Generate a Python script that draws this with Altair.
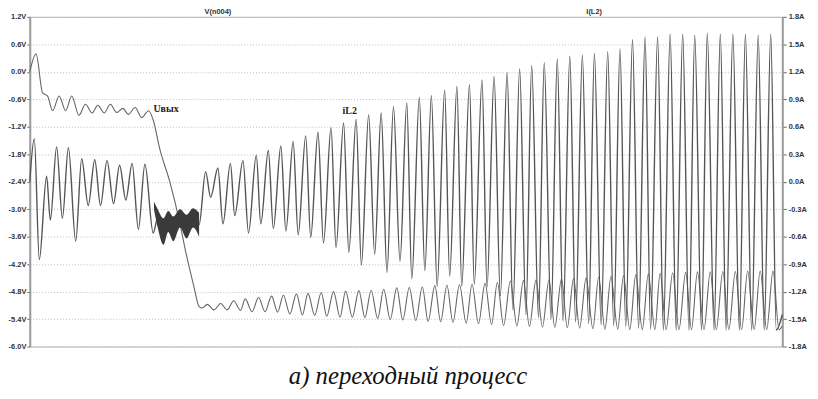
import altair as alt
import pandas as pd

# ---------------- data ----------------
T_TICKS = [0.0, 0.3, 0.6, 0.9, 1.2, 1.5, 1.8, 2.1, 2.4, 2.7, 3.0]
V_TICKS = [1.2, 0.6, 0.0, -0.6, -1.2, -1.8, -2.4, -3.0, -3.6, -4.2, -4.8, -5.4, -6.0]
A_TICKS = [1.8, 1.5, 1.2, 0.9, 0.6, 0.3, 0.0, -0.3, -0.6, -0.9, -1.2, -1.5, -1.8]

# Uвых  (time, ms / volts) – extrema of the trace
U_T = [0.000, 0.025, 0.051, 0.071, 0.091, 0.117, 0.143, 0.167, 0.196, 0.222,
       0.249, 0.271, 0.297, 0.321, 0.347, 0.371, 0.393, 0.420, 0.446, 0.474,
       0.493, 0.518, 0.558, 0.597, 0.624, 0.655, 0.675, 0.688, 0.708, 0.734,
       0.761, 0.787, 0.813, 0.840, 0.859, 0.886, 0.912, 0.938, 0.964, 0.988,
       1.011, 1.037, 1.063, 1.087, 1.109, 1.136, 1.162, 1.184, 1.211, 1.237,
       1.259, 1.286, 1.312, 1.336, 1.361, 1.387, 1.411, 1.437, 1.463, 1.487,
       1.513, 1.539, 1.565, 1.588, 1.615, 1.638, 1.663, 1.687, 1.713, 1.740,
       1.763, 1.789, 1.815, 1.841, 1.864, 1.889, 1.916, 1.942, 1.968, 1.992,
       2.018, 2.044, 2.070, 2.093, 2.120, 2.143, 2.168, 2.192, 2.218, 2.245,
       2.268, 2.293, 2.317, 2.344, 2.367, 2.392, 2.416, 2.442, 2.466, 2.492,
       2.513, 2.537, 2.563, 2.588, 2.615, 2.638, 2.662, 2.688, 2.713, 2.737,
       2.763, 2.787, 2.813, 2.838, 2.862, 2.888, 2.912, 2.938, 2.963, 2.987,
       3.000]
U_V = [0.00, 0.39, -0.46, -0.53, -0.85, -0.53, -0.85, -0.53, -0.95, -0.71,
       -0.90, -0.73, -0.90, -0.71, -0.89, -0.80, -0.93, -0.78, -1.00, -0.85,
       -1.07, -1.68, -2.40, -3.27, -3.99, -4.71, -5.13, -5.16, -5.08, -5.20,
       -5.06, -5.20, -5.00, -5.21, -4.96, -5.24, -4.93, -5.24, -4.90, -5.25,
       -4.88, -5.29, -4.85, -5.31, -4.84, -5.32, -4.82, -5.34, -4.80, -5.36,
       -4.79, -5.36, -4.78, -5.37, -4.77, -5.39, -4.75, -5.41, -4.72, -5.42,
       -4.71, -5.43, -4.70, -5.45, -4.67, -5.46, -4.66, -5.47, -4.65, -5.49,
       -4.64, -5.50, -4.62, -5.52, -4.60, -5.54, -4.57, -5.55, -4.56, -5.56,
       -4.55, -5.57, -4.54, -5.58, -4.52, -5.59, -4.51, -5.60, -4.50, -5.61,
       -4.48, -5.62, -4.47, -5.62, -4.45, -5.63, -4.43, -5.63, -4.41, -5.63,
       -4.40, -5.63, -4.39, -5.63, -4.38, -5.63, -4.37, -5.63, -4.37, -5.63,
       -4.36, -5.63, -4.36, -5.63, -4.35, -5.63, -4.35, -5.63, -4.35, -5.63,
       -5.55]

# iL2  (time, ms / amperes) – extrema of the trace
I_T = [0.000, 0.018, 0.038, 0.067, 0.082, 0.107, 0.130, 0.154, 0.183, 0.207,
       0.233, 0.259, 0.282, 0.308, 0.334, 0.358, 0.383, 0.408, 0.433, 0.459,
       0.492, 0.510, 0.533, 0.552, 0.572, 0.599, 0.625, 0.651, 0.675, 0.701,
       0.721, 0.750, 0.770, 0.800, 0.817, 0.850, 0.872, 0.903, 0.921, 0.951,
       0.971, 1.001, 1.021, 1.050, 1.070, 1.100, 1.120, 1.149, 1.171, 1.201,
       1.221, 1.251, 1.272, 1.301, 1.322, 1.351, 1.375, 1.401, 1.424, 1.450,
       1.476, 1.503, 1.523, 1.553, 1.575, 1.601, 1.624, 1.654, 1.674, 1.703,
       1.722, 1.753, 1.772, 1.803, 1.823, 1.851, 1.876, 1.903, 1.926, 1.953,
       1.978, 2.001, 2.028, 2.051, 2.078, 2.103, 2.126, 2.153, 2.176, 2.203,
       2.228, 2.251, 2.278, 2.304, 2.328, 2.353, 2.376, 2.403, 2.427, 2.453,
       2.475, 2.503, 2.526, 2.553, 2.577, 2.603, 2.628, 2.651, 2.678, 2.701,
       2.728, 2.753, 2.776, 2.803, 2.829, 2.853, 2.878, 2.904, 2.928, 2.954,
       2.976, 3.000]
I_A = [0.00, 0.47, -0.85, 0.06, -0.42, 0.38, -0.40, 0.37, -0.65, 0.25,
       -0.26, 0.24, -0.26, 0.23, -0.24, 0.18, -0.20, 0.20, -0.52, 0.19,
       -0.56, -0.40, -0.55, -0.44, -0.52, -0.40, -0.49, -0.40, -0.47, 0.11,
       -0.17, 0.15, -0.46, 0.20, -0.37, 0.23, -0.56, 0.29, -0.46, 0.34,
       -0.51, 0.39, -0.54, 0.44, -0.58, 0.50, -0.61, 0.54, -0.67, 0.59,
       -0.72, 0.64, -0.77, 0.68, -0.91, 0.73, -0.79, 0.75, -0.99, 0.82,
       -0.87, 0.86, -1.06, 0.92, -0.97, 0.94, -1.14, 1.00, -1.03, 1.04,
       -1.14, 1.06, -1.12, 1.11, -1.15, 1.15, -1.25, 1.19, -1.40, 1.23,
       -1.45, 1.27, -1.48, 1.30, -1.50, 1.34, -1.52, 1.37, -1.53, 1.38,
       -1.55, 1.40, -1.56, 1.42, -1.57, 1.45, -1.58, 1.55, -1.60, 1.58,
       -1.61, 1.58, -1.62, 1.61, -1.62, 1.61, -1.62, 1.60, -1.62, 1.62,
       -1.62, 1.61, -1.62, 1.61, -1.62, 1.61, -1.62, 1.60, -1.62, 1.61,
       -1.62, -1.45]

# dense high-frequency band of iL2 (envelope, amperes)
BAND_T = [0.495, 0.510, 0.533, 0.552, 0.572, 0.599, 0.625, 0.651, 0.675]
BAND_HI = [-0.22, -0.30, -0.40, -0.32, -0.38, -0.30, -0.36, -0.29, -0.34]
BAND_LO = [-0.30, -0.50, -0.69, -0.55, -0.65, -0.50, -0.62, -0.50, -0.60]

LABEL_U = {"t": [0.493], "v": [-0.81], "s": ["Uвых"]}
LABEL_I = {"t": [1.247], "a": [0.77], "s": ["iL2"]}
CAPTION = "а) переходный процесс"
TITLE_V = "V(n004)"
TITLE_I = "I(L2)"

# ---------------- chart ----------------
u_df = pd.DataFrame({"t": U_T, "v": U_V})
i_df = pd.DataFrame({"t": I_T, "a": I_A})
b_df = pd.DataFrame({"t": BAND_T, "hi": BAND_HI, "lo": BAND_LO})

W, H = 760, 333
xscale = alt.Scale(domain=[0, 3], nice=False, zero=False)
vscale = alt.Scale(domain=[-6, 1.2], nice=False, zero=False)
ascale = alt.Scale(domain=[-1.8, 1.8], nice=False, zero=False)

common = dict(labelFont="Liberation Sans", labelFontSize=7.5, labelFontWeight="bold",
              labelColor="#333333", tickColor="#666666", tickWidth=1,
              domainColor="#9a9a9a", domainWidth=2)

xaxis = alt.Axis(values=T_TICKS, labelExpr="format(datum.value, '.1f') + 'ms'",
                 grid=True, gridColor="#bdbdbd", gridDash=[1, 2], labelFlush=False,
                 tickSize=4, labelPadding=4, **common)
vaxis = alt.Axis(orient="left", values=V_TICKS,
                 labelExpr="replace(format(datum.value, '.1f'), '\u2212', '-') + 'V'",
                 grid=True, gridColor="#bdbdbd", gridDash=[1, 2],
                 tickSize=3, labelPadding=1, **common)
aaxis = alt.Axis(orient="right", values=A_TICKS,
                 labelExpr="replace(format(datum.value, '.1f'), '\u2212', '-') + 'A'",
                 grid=False, tickSize=4, labelPadding=2, **common)

u_line = alt.Chart(u_df).mark_line(color="#666666", strokeWidth=1.1, interpolate="monotone").encode(
    x=alt.X("t:Q", scale=xscale, axis=xaxis, title=None),
    y=alt.Y("v:Q", scale=vscale, axis=vaxis, title=None),
)
u_lab = alt.Chart(pd.DataFrame(LABEL_U)).mark_text(
    align="left", baseline="middle", font="Liberation Serif", fontWeight="bold",
    fontSize=10, color="#222222").encode(
    x=alt.X("t:Q", scale=xscale, axis=None),
    y=alt.Y("v:Q", scale=vscale, axis=None),
    text="s:N",
)
i_line = alt.Chart(i_df).mark_line(color="#555555", strokeWidth=1.4, interpolate="monotone").encode(
    x=alt.X("t:Q", scale=xscale, axis=None),
    y=alt.Y("a:Q", scale=ascale, axis=aaxis, title=None),
)
band = alt.Chart(b_df).mark_area(color="#3a3a3a", opacity=1, interpolate="monotone").encode(
    x=alt.X("t:Q", scale=xscale, axis=None),
    y=alt.Y("hi:Q", scale=ascale, axis=None),
    y2="lo:Q",
)
i_lab = alt.Chart(pd.DataFrame(LABEL_I)).mark_text(
    align="left", baseline="middle", font="Liberation Serif", fontWeight="bold",
    fontSize=10, color="#222222").encode(
    x=alt.X("t:Q", scale=xscale, axis=None),
    y=alt.Y("a:Q", scale=ascale, axis=None),
    text="s:N",
)

title_v = alt.Chart(pd.DataFrame({"s": [TITLE_V]})).mark_text(
    font="Liberation Sans", fontSize=7.5, fontWeight="bold", color="#333333",
    align="center", baseline="middle").encode(x=alt.value(190), y=alt.value(-5), text="s:N")
title_i = alt.Chart(pd.DataFrame({"s": [TITLE_I]})).mark_text(
    font="Liberation Sans", fontSize=7.5, fontWeight="bold", color="#333333",
    align="center", baseline="middle").encode(x=alt.value(570), y=alt.value(-5), text="s:N")
caption = alt.Chart(pd.DataFrame({"s": [CAPTION]})).mark_text(
    font="Liberation Serif", fontStyle="italic", fontSize=25, color="#111111",
    align="center", baseline="alphabetic").encode(x=alt.value(382), y=alt.value(371), text="s:N")

chart = alt.layer(u_line, u_lab, i_line, band, i_lab, title_v, title_i, caption).resolve_scale(
    y="independent"
).properties(
    width=W, height=H,
    autosize=alt.AutoSizeParams(type="none"),
    padding={"left": 22, "top": 7, "right": 28, "bottom": 43},
    background="white",
).configure_view(stroke="#b0b0b0", strokeWidth=1)

chart.save("out.html", embed_options={"renderer": "svg", "actions": False})
